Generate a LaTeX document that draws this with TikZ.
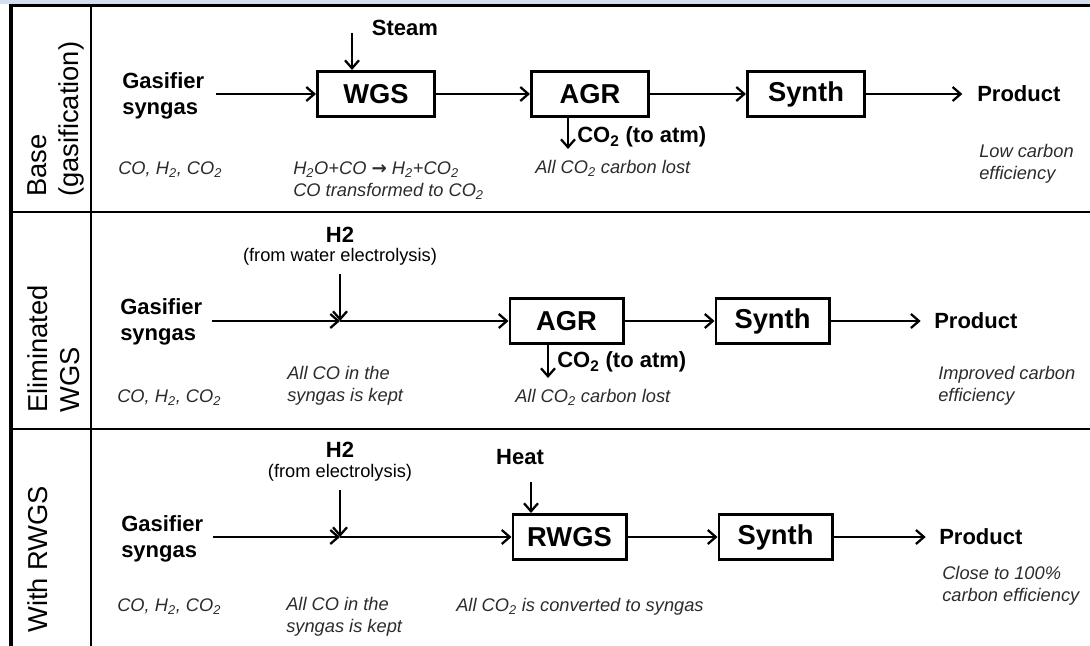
\documentclass[tikz,border=0pt]{standalone}
\usepackage{fontspec}
\setmainfont{Liberation Sans}
\newfontfamily\arrowfont{DejaVu Sans}
\usepackage{tikz}
\usetikzlibrary{arrows.meta, positioning}
\definecolor{bandblue}{HTML}{D3DEEE}
\definecolor{notegray}{HTML}{2B2B2B}

\begin{document}
\begin{tikzpicture}[
        x=0.75pt, y=-0.75pt,
        arrow/.style={-{Straight Barb[length=6pt, width=10.5pt]}, line width=1.7pt},
        grid/.style={line width=1.9pt},
        box/.style={draw, rectangle, line width=2pt, minimum width=85pt, minimum height=34pt, inner sep=0pt, font=\fontsize{20.5}{24}\selectfont\bfseries},
        lbl/.style={inner sep=0pt, align=left, font=\fontsize{16.5}{19}\selectfont\bfseries},
        src/.style={inner sep=0pt, font=\fontsize{13.7}{16.5}\selectfont},
        note/.style={inner sep=0pt, anchor=west, align=left, text=notegray, font=\fontsize{13.7}{16.5}\selectfont\itshape},
        rowname/.style={rotate=90, anchor=north west, align=left, inner sep=0pt, font=\fontsize{20.5}{24}\selectfont}
    ]
        \useasboundingbox (0,0) rectangle (1090,646);

        % Tabella
        \fill[bandblue] (0,0) rectangle (1090,4);
        \draw[line width=2.3pt] (11,646) -- (11,5.5) -- (1090,5.5);
        \draw[grid] (91,5.5) -- (91,646);
        \draw[grid] (11,212) -- (1090,212);
        \draw[grid] (11,429) -- (1090,429);

        \node[rowname] (rowbase) at (27,197) {Base\\(gasification)};
        \node[rowname] (rowelim) at (27,413) {Eliminated\\WGS};
        \node[rowname] (rowrwgs) at (27,633) {With RWGS};

        % Riga 1: base
        \node[lbl, anchor=west] (gas1) at (122,96) {Gasifier\\syngas};
        \node[box, minimum width=88pt] (wgs1) at (376,94) {WGS};
        \node[box, minimum width=88pt] (agr1) at (590,94) {AGR};
        \node[box, minimum width=88pt] (synth1) at (806,94) {Synth};
        \node[lbl, anchor=west] (prod1) at (977,94) {Product};
        \node[lbl] (steam) at (405,28) {Steam};
        \coordinate (steamin) at (352,33);
        \coordinate (co2out1) at (568,149);
        \node[lbl, anchor=west] (co2lbl1) at (577,137) {CO\textsubscript{2} (to atm)};

        \draw[arrow, shorten <=9pt] (gas1.east |- wgs1) -- (wgs1);
        \draw[arrow] (steamin) -- (steamin |- wgs1.north);
        \draw[arrow] (wgs1) -- (agr1);
        \draw[arrow] (agr1) -- (synth1);
        \draw[arrow, shorten >=11pt] (synth1) -- (prod1);
        \draw[arrow] (co2out1 |- agr1.south) -- (co2out1);

        \node[note] (mix1) at (118,170) {CO, H\textsubscript{2}, CO\textsubscript{2}};
        \node[note] (wgsnote) at (293,181) {H\textsubscript{2}O+CO {\arrowfont\upshape\bfseries →} H\textsubscript{2}+CO\textsubscript{2}\\CO transformed to CO\textsubscript{2}};
        \node[note] (lost1) at (535,168) {All CO\textsubscript{2} carbon lost};
        \node[note] (eff1) at (979,164) {Low carbon\\efficiency};

        % Riga 2: senza WGS
        \node[lbl, anchor=west] (gas2) at (120,322) {Gasifier\\syngas};
        \node[lbl] (h2top2) at (340,235) {H2};
        \node[src] (h2src2) at (340,257) {(from water electrolysis)};
        \coordinate (j2) at (340,321);
        \node[box] (agr2) at (566.5,321) {AGR};
        \node[box] (synth2) at (772.5,321) {Synth};
        \node[lbl, anchor=west] (prod2) at (934,321) {Product};
        \coordinate (co2out2) at (548,378);
        \node[lbl, anchor=west] (co2lbl2) at (557,362) {CO\textsubscript{2} (to atm)};

        \draw[arrow, shorten <=7pt] (gas2.east |- j2) -- (j2);
        \draw[arrow, shorten <=6pt] (h2src2.south) -- (j2);
        \draw[arrow] (j2) -- (agr2);
        \draw[arrow] (agr2) -- (synth2);
        \draw[arrow, shorten >=10pt] (synth2) -- (prod2);
        \draw[arrow] (co2out2 |- agr2.south) -- (co2out2);

        \node[note] (mix2) at (117,398) {CO, H\textsubscript{2}, CO\textsubscript{2}};
        \node[note] (kept2) at (287,386) {All CO in the\\syngas is kept};
        \node[note] (lost2) at (515,397) {All CO\textsubscript{2} carbon lost};
        \node[note] (eff2) at (938,386) {Improved carbon\\efficiency};

        % Riga 3: con RWGS
        \node[lbl, anchor=west] (gas3) at (121,539) {Gasifier\\syngas};
        \node[lbl] (h2top3) at (340,450) {H2};
        \node[src] (h2src3) at (340,473) {(from electrolysis)};
        \coordinate (j3) at (340,537);
        \node[lbl] (heat) at (520,457) {Heat};
        \coordinate (heatin) at (531,482);
        \node[box] (rwgs3) at (569.5,537) {RWGS};
        \node[box] (synth3) at (775.5,537) {Synth};
        \node[lbl, anchor=west] (prod3) at (939,537) {Product};

        \draw[arrow, shorten <=7pt] (gas3.east |- j3) -- (j3);
        \draw[arrow, shorten <=6pt] (h2src3.south) -- (j3);
        \draw[arrow] (j3) -- (rwgs3);
        \draw[arrow] (heatin) -- (heatin |- rwgs3.north);
        \draw[arrow] (rwgs3) -- (synth3);
        \draw[arrow, shorten >=10pt] (synth3) -- (prod3);

        \node[note] (mix3) at (117,607) {CO, H\textsubscript{2}, CO\textsubscript{2}};
        \node[note] (kept3) at (286,617) {All CO in the\\syngas is kept};
        \node[note] (conv3) at (456,607) {All CO\textsubscript{2} is converted to syngas};
        \node[note] (eff3) at (942,586) {Close to 100\%\\carbon efficiency};
    \end{tikzpicture}
\end{document}
